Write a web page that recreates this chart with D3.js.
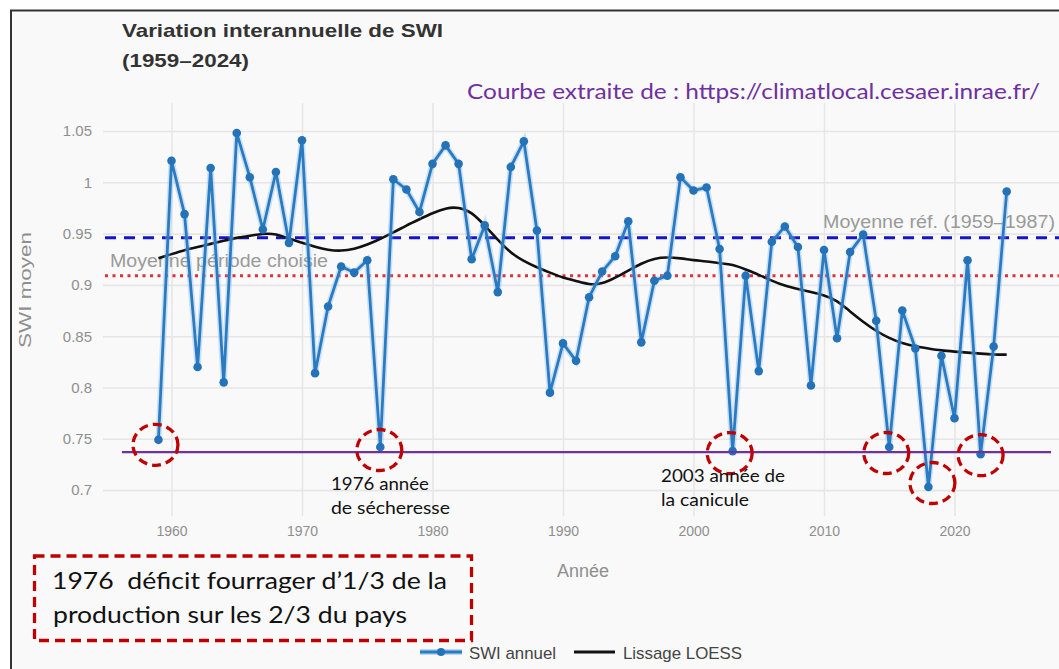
<!DOCTYPE html>
<html><head><meta charset="utf-8">
<script src="https://cdn.jsdelivr.net/npm/d3@7"></script>
<style>
html,body{margin:0;padding:0;background:#fff;}
svg{display:block;}
</style></head>
<body>
<svg id="c" width="1059" height="669"></svg>
<script>
// ---------- data ----------
const years = [1959,1960,1961,1962,1963,1964,1965,1966,1967,1968,1969,1970,1971,1972,1973,1974,1975,1976,1977,1978,1979,1980,1981,1982,1983,1984,1985,1986,1987,1988,1989,1990,1991,1992,1993,1994,1995,1996,1997,1998,1999,2000,2001,2002,2003,2004,2005,2006,2007,2008,2009,2010,2011,2012,2013,2014,2015,2016,2017,2018,2019,2020,2021,2022,2023,2024];
const swiAnnuel = [0.749,1.021,0.969,0.820,1.014,0.805,1.048,1.005,0.954,1.010,
  0.941,1.041,0.814,0.879,0.918,0.912,0.924,0.742,1.003,0.993,
  0.971,1.018,1.036,1.018,0.925,0.958,0.893,1.015,1.040,0.953,
  0.795,0.843,0.826,0.888,0.913,0.928,0.962,0.844,0.904,0.909,
  1.005,0.992,0.995,0.935,0.738,0.909,0.816,0.942,0.957,0.937,
  0.802,0.934,0.848,0.932,0.949,0.865,0.742,0.875,0.838,0.703,
  0.831,0.770,0.924,0.735,0.840,0.991];
const lissageLoess = [0.926,0.930,0.934,0.937,0.940,0.943,0.946,0.948,0.950,0.950,
  0.945,0.941,0.937,0.934,0.933,0.935,0.939,0.945,0.951,0.958,
  0.964,0.970,0.975,0.976,0.971,0.958,0.944,0.931,0.923,0.917,
  0.912,0.907,0.904,0.900,0.901,0.907,0.914,0.921,0.926,0.927,
  0.926,0.924,0.923,0.921,0.920,0.915,0.910,0.904,0.899,0.896,
  0.893,0.890,0.885,0.874,0.864,0.855,0.848,0.843,0.840,0.838,
  0.836,0.835,0.834,0.833,0.832,0.832];
const yTicks = [0.7,0.75,0.8,0.85,0.9,0.95,1,1.05];
const yTickLabels = ["0.7","0.75","0.8","0.85","0.9","0.95","1","1.05"];
const xTicks = [1960,1970,1980,1990,2000,2010,2020];
const xTickLabels = ["1960","1970","1980","1990","2000","2010","2020"];
const moyenneRef = 0.946;       // Moyenne réf. (1959–1987)
const moyenneChoisie = 0.909;   // Moyenne période choisie
const seuilBas = 0.737;         // ligne violette
const seuilBasYears = [1956.2, 2027.4];
const circledYears = [1959,1976,2003,2015,2018,2022];
const circleDx = [-3,-1,-3,-3,4,0];
const circleDy = [5,3,2,6,-4,1];

// ---------- layout ----------
const svg = d3.select("#c");
const W = 1059, H = 669;
const plot = {left:103, right:1059, top:103, bottom:516};

svg.append("rect").attr("x",0).attr("y",0).attr("width",W).attr("height",H).attr("fill","#ffffff");
svg.append("rect").attr("x",11).attr("y",10.5).attr("width",W+20).attr("height",H+20)
  .attr("fill","#f9f9f9").attr("stroke","#333").attr("stroke-width",2);

const x = d3.scaleLinear().domain([1955, 2028]).range([106.25, 1058.9]);
const y = d3.scaleLinear().domain([0.675, 1.0775]).range([515.75, 102.8]);

// gridlines
const gy = svg.append("g").attr("transform",`translate(${plot.left},0)`)
  .call(d3.axisLeft(y).tickValues(yTicks).tickSize(-(plot.right-plot.left)).tickFormat(""));
gy.select(".domain").remove();
gy.selectAll("line").attr("stroke","#e6e6e6").attr("stroke-width",1.6);

const gx = svg.append("g").attr("transform",`translate(0,${plot.bottom})`)
  .call(d3.axisBottom(x).tickValues(xTicks).tickSize(-(plot.bottom-plot.top)).tickFormat(""));
gx.select(".domain").remove();
gx.selectAll("line").attr("stroke","#e6e6e6").attr("stroke-width",1.6);

// y tick labels
const ya = svg.append("g").attr("transform",`translate(92,0)`)
  .call(d3.axisLeft(y).tickValues(yTicks).tickSize(0).tickPadding(0)
    .tickFormat((d,i)=>yTickLabels[i]));
ya.select(".domain").remove();
ya.selectAll("text").attr("font-family","Liberation Sans, Arial, sans-serif")
  .attr("font-size",15).attr("fill","#8f8f8f");

// x tick labels
const xa = svg.append("g").attr("transform",`translate(0,${plot.bottom+10})`)
  .call(d3.axisBottom(x).tickValues(xTicks).tickSize(0).tickPadding(0)
    .tickFormat((d,i)=>xTickLabels[i]));
xa.select(".domain").remove();
xa.selectAll("text").attr("font-family","Liberation Sans, Arial, sans-serif")
  .attr("font-size",14).attr("fill","#8f8f8f");

// axis titles
svg.append("text").attr("x",583).attr("y",577).attr("text-anchor","middle")
  .attr("font-family","Liberation Sans, Arial, sans-serif").attr("font-size",18)
  .attr("fill","#8f8f8f").text("Année");
svg.append("text").attr("transform","translate(31,290) rotate(-90)").attr("text-anchor","middle")
  .attr("font-family","Liberation Sans, Arial, sans-serif").attr("font-size",16)
  .attr("fill","#8f8f8f").attr("textLength",116).attr("lengthAdjust","spacingAndGlyphs").text("SWI moyen");

// reference line labels (under lines)
svg.append("text").attr("x",110).attr("y",267)
  .attr("font-family","Liberation Sans, Arial, sans-serif").attr("font-size",18)
  .attr("fill","#9a9a9a").attr("textLength",218).attr("lengthAdjust","spacingAndGlyphs")
  .text("Moyenne période choisie");
svg.append("text").attr("x",823).attr("y",228)
  .attr("font-family","Liberation Sans, Arial, sans-serif").attr("font-size",18)
  .attr("fill","#9a9a9a").attr("textLength",232).attr("lengthAdjust","spacingAndGlyphs")
  .text("Moyenne réf. (1959–1987)");

// reference lines
svg.append("line").attr("x1",105).attr("x2",1059).attr("y1",y(moyenneRef)).attr("y2",y(moyenneRef))
  .attr("stroke","#1414c8").attr("stroke-width",3).attr("stroke-dasharray","11,8");
svg.append("line").attr("x1",105).attr("x2",1059).attr("y1",y(moyenneChoisie)).attr("y2",y(moyenneChoisie))
  .attr("stroke","#e0303a").attr("stroke-width",3).attr("stroke-dasharray","3,4.5");

// LOESS
const data = years.map((yr,i)=>({year:yr, v:swiAnnuel[i], l:lissageLoess[i]}));
svg.append("path").datum(data)
  .attr("d", d3.line().x(d=>x(d.year)).y(d=>y(d.l)).curve(d3.curveBasis))
  .attr("fill","none").attr("stroke","#111").attr("stroke-width",2.6);

// SWI annuel
svg.append("path").datum(data)
  .attr("d", d3.line().x(d=>x(d.year)).y(d=>y(d.v)))
  .attr("fill","none").attr("stroke","rgba(120,180,235,0.35)").attr("stroke-width",6);
svg.append("path").datum(data)
  .attr("d", d3.line().x(d=>x(d.year)).y(d=>y(d.v)))
  .attr("fill","none").attr("stroke","#2a7bc2").attr("stroke-width",2.8).attr("stroke-linejoin","round");
svg.append("g").selectAll("circle").data(data).join("circle")
  .attr("cx",d=>x(d.year)).attr("cy",d=>y(d.v)).attr("r",4.3).attr("fill","#2472b8");

// purple threshold line
svg.append("line").attr("x1",x(seuilBasYears[0])).attr("x2",x(seuilBasYears[1]))
  .attr("y1",y(seuilBas)).attr("y2",y(seuilBas))
  .attr("stroke","#7030a0").attr("stroke-width",2.2);

// red dashed circles
svg.append("g").selectAll("ellipse").data(circledYears).join("ellipse")
  .attr("cx",(d,i)=>x(d)+circleDx[i])
  .attr("cy",(d,i)=>y(swiAnnuel[years.indexOf(d)])+circleDy[i])
  .attr("rx",22.5).attr("ry",20.5)
  .attr("fill","none").attr("stroke","#c00000").attr("stroke-width",3.3).attr("stroke-dasharray","9,5");

// annotations
const ann = [
  {t:"1976 année", x:331, y:490, w:98},
  {t:"de sécheresse", x:331, y:514, w:119},
  {t:"2003 année de", x:661, y:482, w:124},
  {t:"la canicule", x:661, y:506, w:88}
];
svg.append("g").selectAll("text").data(ann).join("text")
  .attr("x",d=>d.x).attr("y",d=>d.y).attr("textLength",d=>d.w).attr("lengthAdjust","spacingAndGlyphs")
  .attr("font-family","Lato, Open Sans, sans-serif").attr("font-size",18).attr("fill","#111")
  .text(d=>d.t);

// red dashed box
svg.append("rect").attr("x",34.5).attr("y",556).attr("width",437).attr("height",84.5)
  .attr("fill","none").attr("stroke","#c00000").attr("stroke-width",3.3).attr("stroke-dasharray","10,6");
svg.append("text").attr("x",52).attr("y",589).attr("font-family","Lato, Open Sans, sans-serif")
  .attr("font-size",23).attr("fill","#111").attr("textLength",395).attr("lengthAdjust","spacingAndGlyphs")
  .style("white-space","pre")
  .text("1976  déficit fourrager d’1/3 de la");
svg.append("text").attr("x",53).attr("y",623).attr("font-family","Lato, Open Sans, sans-serif")
  .attr("font-size",23).attr("fill","#111").attr("textLength",354).attr("lengthAdjust","spacingAndGlyphs")
  .text("production sur les 2/3 du pays");

// title
svg.append("text").attr("x",122).attr("y",37).attr("font-family","Liberation Sans, Arial, sans-serif")
  .attr("font-weight","bold").attr("font-size",19).attr("fill","#333")
  .attr("textLength",321).attr("lengthAdjust","spacingAndGlyphs").text("Variation interannuelle de SWI");
svg.append("text").attr("x",122).attr("y",67).attr("font-family","Liberation Sans, Arial, sans-serif")
  .attr("font-weight","bold").attr("font-size",19).attr("fill","#333")
  .attr("textLength",127).attr("lengthAdjust","spacingAndGlyphs").text("(1959–2024)");

// source
svg.append("text").attr("x",467).attr("y",99).attr("font-family","Lato, Open Sans, sans-serif")
  .attr("font-size",22).attr("fill","#7030a0")
  .attr("textLength",573).attr("lengthAdjust","spacingAndGlyphs")
  .text("Courbe extraite de : https://climatlocal.cesaer.inrae.fr/");

// legend
const lg = svg.append("g");
lg.append("line").attr("x1",420).attr("x2",462).attr("y1",652).attr("y2",652)
  .attr("stroke","rgba(120,180,235,0.5)").attr("stroke-width",6);
lg.append("line").attr("x1",420).attr("x2",462).attr("y1",652).attr("y2",652)
  .attr("stroke","#2a7bc2").attr("stroke-width",2.8);
lg.append("circle").attr("cx",441).attr("cy",652).attr("r",4).attr("fill","#2472b8");
lg.append("text").attr("x",469).attr("y",659).attr("font-family","Liberation Sans, Arial, sans-serif")
  .attr("font-size",17).attr("fill","#444").attr("textLength",87).attr("lengthAdjust","spacingAndGlyphs").text("SWI annuel");
lg.append("line").attr("x1",574).attr("x2",615).attr("y1",652).attr("y2",652)
  .attr("stroke","#111").attr("stroke-width",3);
lg.append("text").attr("x",623).attr("y",659).attr("font-family","Liberation Sans, Arial, sans-serif")
  .attr("font-size",17).attr("fill","#444").attr("textLength",119).attr("lengthAdjust","spacingAndGlyphs").text("Lissage LOESS");
</script>
</body></html>
